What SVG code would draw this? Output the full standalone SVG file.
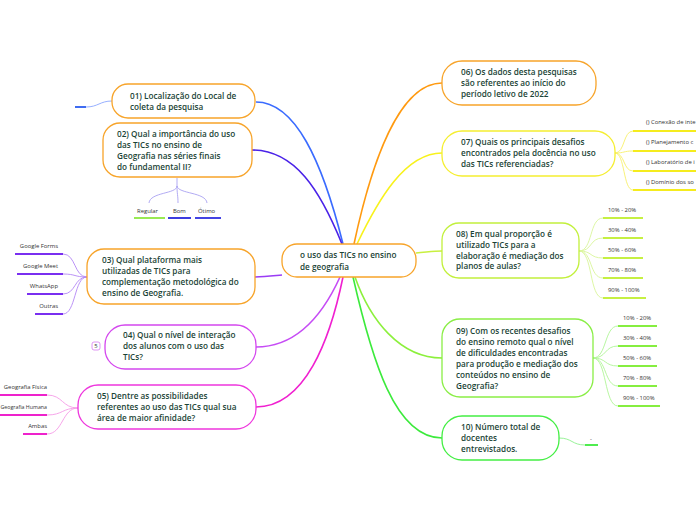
<svg xmlns="http://www.w3.org/2000/svg" width="696" height="520" viewBox="0 0 696 520">
<style>
.n{fill:#fff;stroke-width:1.3}
.t{font-family:"Open Sans","Noto Sans",sans-serif;font-weight:600;font-size:8.2px;fill:#1b4436}
.s{font-family:"Open Sans","Noto Sans",sans-serif;font-size:5.9px;fill:#333}
.c{fill:none;stroke-width:1.6}
.l{fill:none;stroke-width:0.9}
.u{fill:none;stroke-width:1.8}
</style>
<rect width="696" height="520" fill="#fff"/>
<g id="connectors">
<path class="c" stroke="#3a6bff" d="M256,102 C295,102 322,160 343,244"/>
<path class="c" stroke="#4a22e8" d="M252,150 C295,150 320,190 342,244"/>
<path class="c" stroke="#ff9a10" d="M442,83 C400,83 372,160 354,244"/>
<path class="c" stroke="#f8f21c" d="M442,153 C405,153 378,200 357,244"/>
<path class="c" stroke="#c8f040" d="M416,253 C428,252 434,251 442,251"/>
<path class="c" stroke="#9a3cf5" d="M282,275 C272,276 265,277 255,277"/>
<path class="c" stroke="#c64cf5" d="M256,347 C300,347 325,310 340,277"/>
<path class="c" stroke="#f020d0" d="M256,407 C305,407 330,340 343,277"/>
<path class="c" stroke="#8cf03c" d="M442,358 C400,358 370,320 355,277"/>
<path class="c" stroke="#3cea3c" d="M442,438 C395,438 372,360 353,277"/>
<path class="l" stroke="#8aa6ff" d="M112,101 C100,101 98,107 86,107"/>
<path class="u" stroke="#2a5cf0" d="M75,107 H86"/>
<path class="l" stroke="#a9a2f2" d="M177,178 V186 C177,194 150,192 149,203"/>
<path class="l" stroke="#a9a2f2" d="M177,186 C177,194 178,195 178,203"/>
<path class="l" stroke="#a9a2f2" d="M177,186 C178,194 206,192 207,203"/>
<path class="u" stroke="#8ee840" d="M134,218 H165"/>
<path class="u" stroke="#2626dd" d="M168,218 H191"/>
<path class="u" stroke="#2e2ee0" d="M195,218 H221"/>
<path class="l" stroke="#b387f5" d="M87,277 C74,277 76,254 63,254"/>
<path class="l" stroke="#b387f5" d="M87,277 C74,277 76,274 63,274"/>
<path class="l" stroke="#b387f5" d="M87,277 C74,277 76,294 63,294"/>
<path class="l" stroke="#b387f5" d="M87,277 C74,277 76,314 63,314"/>
<path class="u" stroke="#7a2ff0" d="M15,254 H63 M17,274 H63 M27,294 H63 M35,314 H63"/>
<path class="l" stroke="#f59be6" d="M78,408 C62,408 63,395 47,395"/>
<path class="l" stroke="#f59be6" d="M78,408 C62,408 63,415 47,415"/>
<path class="l" stroke="#f59be6" d="M78,408 C62,408 63,434 47,434"/>
<path class="u" stroke="#ee22cc" d="M0,395 H47 M0,415 H47 M23,434 H47"/>
<path class="l" stroke="#f7ef6a" d="M615,153 C625,153 623,131 633,131"/>
<path class="l" stroke="#f7ef6a" d="M615,153 C625,153 623,151 633,151"/>
<path class="l" stroke="#f7ef6a" d="M615,153 C625,153 623,171 633,171"/>
<path class="l" stroke="#f7ef6a" d="M615,153 C625,153 623,190 633,190"/>
<path class="u" stroke="#f5ec1e" d="M633,131 H696 M633,151 H696 M633,171 H696 M633,190 H696"/>
<path class="l" stroke="#d9f59a" d="M579,251 C593,251 589,218 603,218"/>
<path class="l" stroke="#d9f59a" d="M579,251 C593,251 589,238 603,238"/>
<path class="l" stroke="#d9f59a" d="M579,251 C593,251 589,258 603,258"/>
<path class="l" stroke="#d9f59a" d="M579,251 C593,251 589,278 603,278"/>
<path class="l" stroke="#d9f59a" d="M579,251 C593,251 589,298 603,298"/>
<path class="u" stroke="#c6f042" d="M603,218 H643 M603,238 H643 M603,258 H643 M603,278 H643 M603,298 H646"/>
<path class="l" stroke="#b0f596" d="M593,358 C607,358 604,326 618,326"/>
<path class="l" stroke="#b0f596" d="M593,358 C607,358 604,346 618,346"/>
<path class="l" stroke="#b0f596" d="M593,358 C607,358 604,366 618,366"/>
<path class="l" stroke="#b0f596" d="M593,358 C607,358 604,386 618,386"/>
<path class="l" stroke="#b0f596" d="M593,358 C607,358 604,406 618,406"/>
<path class="u" stroke="#86ee40" d="M618,326 H657 M618,346 H657 M618,366 H657 M618,386 H657 M618,406 H660"/>
<path class="l" stroke="#8cf08c" d="M559,438 C572,438 572,445 585,445"/>
<path class="u" stroke="#3cea3c" d="M585,445 H598"/>
</g>
<g id="center">
<rect class="n" x="282" y="244" width="134" height="33" rx="15" stroke="#f7a42a"/>
<text class="t" x="300" y="258">o uso das TICs no ensino</text>
<text class="t" x="300" y="270">de geografia</text>
</g>
<g id="n01">
<rect class="n" x="112" y="84" width="143" height="34" rx="16" stroke="#f7a42a"/>
<text class="t" x="130" y="99">01) Localização do Local de</text>
<text class="t" x="130" y="110">coleta da pesquisa</text>
</g>
<g id="n02">
<rect class="n" x="103" y="123" width="149" height="54" rx="17" stroke="#f7a42a"/>
<text class="t" x="117" y="137">02) Qual a importância do uso</text>
<text class="t" x="117" y="148">das  TICs no ensino de</text>
<text class="t" x="117" y="159">Geografia nas séries finais</text>
<text class="t" x="117" y="170">do fundamental II?</text>
</g>
<g id="n02c">
<text class="s" x="137" y="213">Regular</text>
<text class="s" x="173" y="213">Bom</text>
<text class="s" x="198" y="213">Ótimo</text>
</g>
<g id="n03">
<rect class="n" x="87" y="249" width="168" height="55" rx="17" stroke="#f7a42a"/>
<text class="t" x="102" y="263">03) Qual plataforma mais</text>
<text class="t" x="102" y="274">utilizadas de  TICs para</text>
<text class="t" x="102" y="285">complementação metodológica do</text>
<text class="t" x="102" y="296">ensino de Geografia.</text>
</g>
<g id="n03c" text-anchor="end">
<text class="s" x="58" y="248">Google Forms</text>
<text class="s" x="58" y="268">Google Meet</text>
<text class="s" x="58" y="288">WhatsApp</text>
<text class="s" x="58" y="308">Outras</text>
</g>
<g id="n04">
<rect class="n" x="105" y="325" width="151" height="44" rx="20" stroke="#d447ee"/>
<text class="t" x="123" y="338">04) Qual  o nível de interação</text>
<text class="t" x="123" y="349">dos  alunos com o uso das</text>
<text class="t" x="123" y="360">TICs?</text>
<rect x="92" y="342" width="8" height="8" rx="2" fill="#fff" stroke="#d77cf0" stroke-width="0.8"/>
<text class="s" x="96" y="348.2" text-anchor="middle" fill="#777">5</text>
</g>
<g id="n05">
<rect class="n" x="78" y="385" width="178" height="44" rx="20" stroke="#ee36dd"/>
<text class="t" x="97" y="399">05) Dentre as possibilidades</text>
<text class="t" x="97" y="410">referentes ao uso das TICs qual sua</text>
<text class="t" x="97" y="421">área de maior afinidade?</text>
</g>
<g id="n05c">
<text class="s" x="47" y="389" text-anchor="end">Geografia Física</text>
<text class="s" x="0.5" y="409" textLength="46.5" lengthAdjust="spacingAndGlyphs">Geografia Humana</text>
<text class="s" x="47" y="428" text-anchor="end">Ambas</text>
</g>
<g id="n06">
<rect class="n" x="442" y="61" width="154" height="44" rx="20" stroke="#f7a42a"/>
<text class="t" x="461" y="75">06) Os dados desta pesquisas</text>
<text class="t" x="461" y="86">são referentes ao início do</text>
<text class="t" x="461" y="97">período letivo de 2022</text>
</g>
<g id="n07">
<rect class="n" x="442" y="131" width="173" height="45" rx="20" stroke="#f5ee30"/>
<text class="t" x="461" y="145">07) Quais os principais desafios</text>
<text class="t" x="461" y="156">encontrados pela docência no uso</text>
<text class="t" x="461" y="167">das TICs referenciadas?</text>
</g>
<g id="n07c">
<text class="s" x="646" y="124">() Conexão de inte</text>
<text class="s" x="646" y="144">() Planejamento c</text>
<text class="s" x="646" y="164">() Laboratório de i</text>
<text class="s" x="646" y="184">() Domínio dos so</text>
</g>
<g id="n08">
<rect class="n" x="442" y="223" width="137" height="55" rx="17" stroke="#c2f03c"/>
<text class="t" x="456" y="237">08) Em qual proporção é</text>
<text class="t" x="456" y="248">utilizado TICs para a</text>
<text class="t" x="456" y="259">elaboração é mediação dos</text>
<text class="t" x="456" y="269">planos de aulas?</text>
</g>
<g id="n08c">
<text class="s" x="608" y="212">10% - 20%</text>
<text class="s" x="608" y="232">30% - 40%</text>
<text class="s" x="608" y="252">50% - 60%</text>
<text class="s" x="608" y="272">70% - 80%</text>
<text class="s" x="608" y="292">90% - 100%</text>
</g>
<g id="n09">
<rect class="n" x="442" y="319" width="151" height="78" rx="18" stroke="#8aee46"/>
<text class="t" x="456" y="334">09) Com os recentes desafios</text>
<text class="t" x="456" y="345">do ensino remoto qual o nível</text>
<text class="t" x="456" y="356">de dificuldades encontradas</text>
<text class="t" x="456" y="367">para produção e mediação dos</text>
<text class="t" x="456" y="378">conteúdos no ensino de</text>
<text class="t" x="456" y="389">Geografia?</text>
</g>
<g id="n09c">
<text class="s" x="623" y="320">10% - 20%</text>
<text class="s" x="623" y="340">30% - 40%</text>
<text class="s" x="623" y="360">50% - 60%</text>
<text class="s" x="623" y="380">70% - 80%</text>
<text class="s" x="623" y="400">90% - 100%</text>
</g>
<g id="n10">
<rect class="n" x="442" y="416" width="117" height="44" rx="20" stroke="#44ee44"/>
<text class="t" x="461" y="430">10) Número total de</text>
<text class="t" x="461" y="441">docentes</text>
<text class="t" x="461" y="452">entrevistados.</text>
<text class="s" x="590" y="441">-</text>
</g>
</svg>
